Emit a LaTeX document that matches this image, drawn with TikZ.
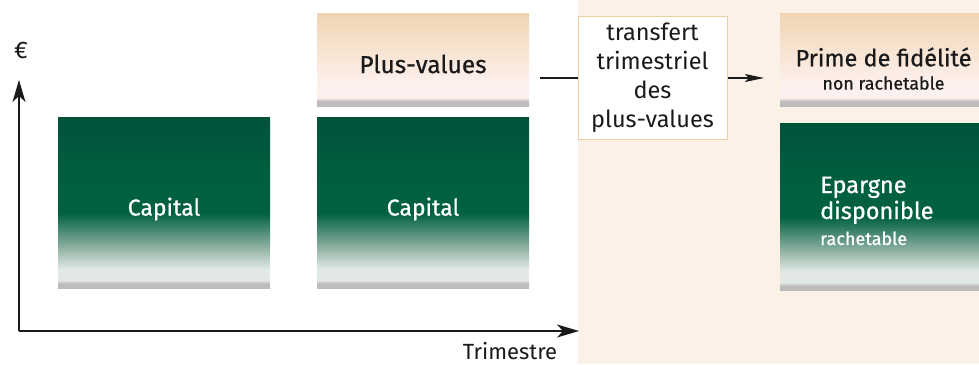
\documentclass[tikz,border=0pt]{standalone}
\usepackage{fontspec}
\setmainfont{Fira Sans}[UprightFeatures={FakeBold=0.7}]
\newfontfamily\regfont{Fira Sans}
\usetikzlibrary{arrows.meta}
\definecolor{bgbeige}{HTML}{FBF1E6}
\definecolor{gdark}{HTML}{00533B}
\definecolor{gmid}{HTML}{006041}
\definecolor{gsoft}{HTML}{8DB0A1}
\definecolor{glight}{HTML}{E2E9E5}
\definecolor{shadowgrey}{HTML}{BEBDBD}
\definecolor{btop}{HTML}{F0D4B2}
\definecolor{bmid}{HTML}{F7E4D2}
\definecolor{blight}{HTML}{FDF1EF}
\definecolor{tborder}{HTML}{EDCFA0}
\definecolor{ink}{HTML}{1A1A1A}
\pgfdeclareverticalshading{greensh}{100bp}{color(0bp)=(shadowgrey); color(25bp)=(shadowgrey); color(26.3bp)=(shadowgrey); color(27.3bp)=(glight); color(30.5bp)=(glight); color(37bp)=(gsoft); color(47bp)=(gmid); color(55bp)=(gmid); color(75bp)=(gdark); color(100bp)=(gdark)}
\pgfdeclareverticalshading{beigesh}{100bp}{color(0bp)=(shadowgrey); color(25bp)=(shadowgrey); color(27.5bp)=(shadowgrey); color(29.5bp)=(blight); color(36bp)=(blight); color(55bp)=(bmid); color(75bp)=(btop); color(100bp)=(btop)}
\tikzset{
  greenbox/.style={rectangle, inner sep=0pt, draw=none, shading=greensh},
  beigebox/.style={rectangle, inner sep=0pt, draw=none, shading=beigesh},
  bigtxt/.style={inner sep=0pt, font=\fontsize{23.5}{26}\selectfont},
  smalltxt/.style={inner sep=0pt, font=\fontsize{17.8}{20}\selectfont},
  regtxt/.style={inner sep=0pt, font=\regfont\fontsize{22}{24}\selectfont},
  whitetxt/.style={text=white},
  inktxt/.style={text=ink},
  axisline/.style={line width=1.3pt, draw=ink, -{Stealth[length=22pt,width=13pt,inset=6pt]}},
  conn/.style={line width=1.1pt, draw=ink},
  transbox/.style={rectangle, draw=tborder, fill=white, line width=1pt, inner sep=0pt,
    minimum width=149pt, minimum height=123pt, align=center, text=ink,
    font=\regfont\fontsize{23.5}{29}\selectfont}
}
\begin{document}
\begin{tikzpicture}[x=1pt,y=-1pt]
\useasboundingbox (0,0) rectangle (979,364);
\fill[white] (0,0) rectangle (579,364);
\fill[bgbeige] (578,0) rectangle (979,364);

% boxes
\node[greenbox, minimum width=212pt, minimum height=171pt] (cap1) at (164,202.5) {};
\node[greenbox, minimum width=212pt, minimum height=171pt] (cap2) at (423,202.5) {};
\node[beigebox, minimum width=212pt, minimum height=93pt] (pv) at (423,59.5) {};
\node[beigebox, minimum width=199pt, minimum height=93pt] (prime) at (879.5,59.5) {};
\node[greenbox, minimum width=199pt, minimum height=167pt] (ep) at (879.5,206.5) {};

% texts
\node[bigtxt, whitetxt, font=\fontsize{23}{26}\selectfont] (cap1t) at (164,209) {Capital};
\node[bigtxt, whitetxt, font=\fontsize{23}{26}\selectfont] (cap2t) at (423,209) {Capital};
\node[bigtxt, inktxt, font=\fontsize{24.5}{26}\selectfont] (pvt) at (423,64) {Plus-values};
\node[bigtxt, inktxt] (primet) at (883.5,57) {Prime de fidélité};
\node[smalltxt, inktxt] (primes) at (883.5,83) {non rachetable};
\node[bigtxt, whitetxt, anchor=base west] (ep1) at (820,193) {Epargne};
\node[bigtxt, whitetxt, anchor=base west] (ep2) at (820,219) {disponible};
\node[smalltxt, whitetxt, anchor=base west, font=\fontsize{18}{20}\selectfont] (ep3) at (820,245) {rachetable};

% transfer box
\node[transbox] (tr) at (652.5,78) {transfert\\trimestriel\\des\\plus-values};
\coordinate (lstart) at (540,78);
\coordinate (aend) at (764,78);
\draw[conn] (lstart) -- (tr.west);
\draw[conn, -{Stealth[length=19pt,width=8pt,inset=4pt]}] (tr.east) -- (aend);

% axes
\coordinate (O) at (19,331);
\coordinate (ytip) at (19,80);
\coordinate (xtip) at (579,331);
\draw[axisline] (O) -- (ytip);
\draw[axisline] (O) -- (xtip);
\node[regtxt, inktxt, font=\regfont\fontsize{24}{26}\selectfont] (euro) at (21,50) {€};
\node[regtxt, inktxt] (trim) at (510,351) {Trimestre};
\end{tikzpicture}
\end{document}
